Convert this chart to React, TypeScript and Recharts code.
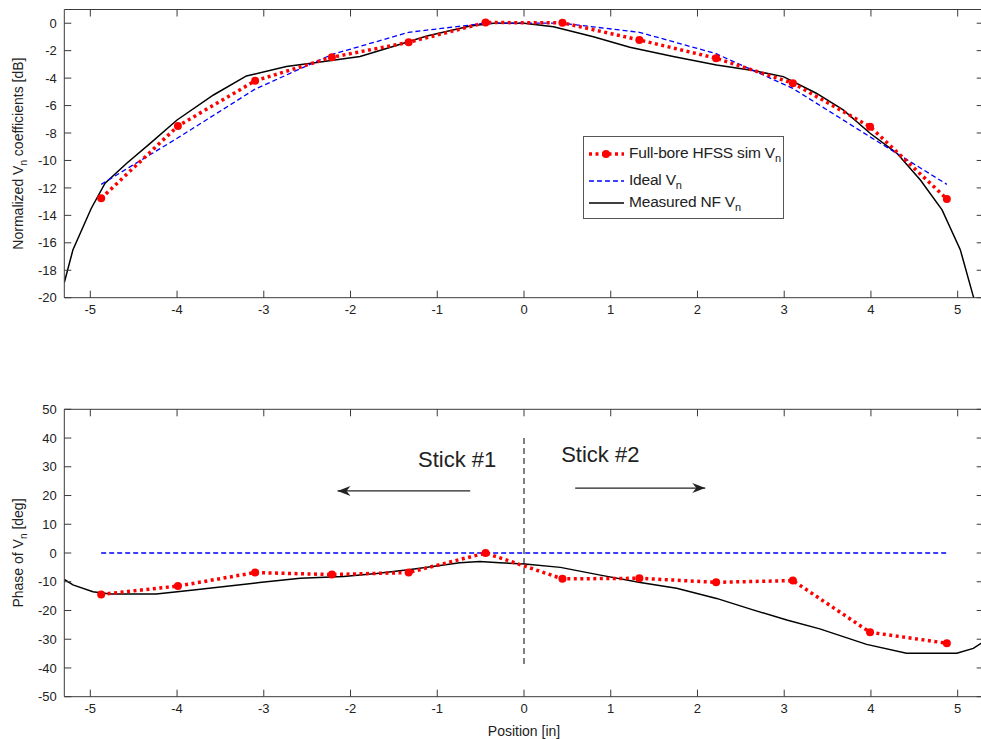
import { Line, LineChart, ReferenceDot, ReferenceLine, XAxis, YAxis } from "recharts";

// element positions along the bore [in]
const positions = [-4.875, -3.99, -3.1, -2.215, -1.33, -0.443, 0.443, 1.33, 2.215, 3.1, 3.99, 4.875];

// normalized magnitude [dB]
const hfssMag = [-12.76, -7.49, -4.2, -2.48, -1.39, 0.05, 0.03, -1.22, -2.55, -4.37, -7.54, -12.8];
const idealMag = [-11.74, -8.35, -4.8, -2.28, -0.66, 0, 0, -0.66, -2.22, -4.75, -8.28, -11.74];

// phase [deg]
const hfssPhase = [-14.4, -11.5, -6.8, -7.5, -6.8, 0, -9.0, -8.8, -10.2, -9.6, -27.6, -31.4];
const idealPhase = [0, 0, 0, 0, 0, 0, 0, 0, 0, 0, 0, 0];

// measured near-field curve, magnitude
const nfMagX = [-5.3, -5.2, -4.99, -4.83, -4.58, -4.31, -4.0, -3.58, -3.2, -2.74, -2.39, -1.89, -1.51, -1.12, -0.62, -0.35, 0, 0.34, 0.8, 1.22, 1.72, 2.22, 2.64, 2.99, 3.37, 3.68, 3.99, 4.3, 4.57, 4.82, 5.03, 5.18, 5.25];
const nfMag = [-18.9, -16.5, -13.5, -11.66, -10.2, -8.75, -7.05, -5.23, -3.84, -3.16, -2.87, -2.43, -1.7, -0.93, -0.2, 0, 0, -0.25, -0.98, -1.75, -2.43, -3.04, -3.45, -3.89, -5.1, -6.32, -8.02, -9.48, -11.42, -13.6, -16.5, -19.9, -21.5];

// measured near-field curve, phase
const nfPhaseX = [-5.3, -5.2, -4.97, -4.77, -4.24, -3.81, -3.05, -2.58, -2.08, -1.7, -1.31, -1.01, -0.74, -0.51, -0.28, 0.01, 0.42, 0.88, 1.34, 1.76, 2.22, 2.64, 3.03, 3.41, 3.95, 4.41, 4.99, 5.18, 5.3];
const nfPhase = [-9.2, -11.1, -13.5, -14.3, -14.3, -12.9, -10.3, -8.8, -8.2, -7.1, -5.7, -4.5, -3.4, -3.0, -3.4, -3.8, -5.0, -7.7, -10.3, -12.3, -15.8, -19.8, -23.3, -26.4, -31.8, -34.9, -34.9, -33.2, -30.8];

const xTicks = [-5, -4, -3, -2, -1, 0, 1, 2, 3, 4, 5];
const magTicks = [-20, -18, -16, -14, -12, -10, -8, -6, -4, -2, 0];
const phaseTicks = [-50, -40, -30, -20, -10, 0, 10, 20, 30, 40, 50];

const pairs = (xs: number[], ys: number[]) => xs.map((x, i) => ({ x, y: ys[i] }));

const INK = "#222";
const AXIS = "#3a3a3a";
const TICK = 7;

const RedDot = (p: any) => <circle key={p.key ?? p.index} cx={p.cx} cy={p.cy} r={4} fill="#ff0000" />;

// inward tick marks, labels outside (MATLAB style)
const BottomTick = ({ x, y, payload }: any) => (
  <g>
    <line x1={x} y1={y} x2={x} y2={y - TICK} stroke={AXIS} />
    <text x={x} y={y + 7.5} dy="0.71em" textAnchor="middle" fontSize={13} fill={INK}>{payload.value}</text>
  </g>
);
const LeftTick = ({ x, y, payload }: any) => (
  <g>
    <line x1={x} y1={y} x2={x + TICK} y2={y} stroke={AXIS} />
    <text x={x - 7.5} y={y} dy="0.355em" textAnchor="end" fontSize={13} fill={INK}>{payload.value}</text>
  </g>
);
const TopTick = ({ x, y }: any) => <line x1={x} y1={y} x2={x} y2={y + TICK} stroke={AXIS} />;
const RightTick = ({ x, y }: any) => <line x1={x} y1={y} x2={x - TICK} y2={y} stroke={AXIS} />;

function Arrow(p: any) {
  const { x1, y1, x2, y2 } = p;
  const d = Math.sign(x2 - x1);
  return (
    <g>
      <line x1={x1} y1={y1} x2={x2} y2={y2} stroke={INK} strokeWidth={1.2} />
      <path d={`M${x2},${y2} L${x2 - d * 13},${y2 - 5} L${x2 - d * 9},${y2} L${x2 - d * 13},${y2 + 5} Z`} fill={INK} />
    </g>
  );
}

function YTitle({ viewBox, main, tail }: any) {
  const cx = 23;
  const cy = viewBox.y + viewBox.height / 2;
  return (
    <text x={cx} y={cy} transform={`rotate(-90, ${cx}, ${cy})`} textAnchor="middle" fontSize={14} fill={INK}>
      {main}
      <tspan dy={4} fontSize={10}>n</tspan>
      <tspan dy={-4}>{tail}</tspan>
    </text>
  );
}

// box frame: labelled bottom/left axes plus unlabelled top/right axes
function frameAxes(yDomain: number[], yTicks: number[], title: any, showXLabel: boolean) {
  const common = { allowDataOverflow: true, tickSize: 0, tickMargin: 0, tickLine: false, stroke: AXIS, interval: 0 as const };
  return [
    <XAxis
      key="xb"
      type="number"
      dataKey="x"
      domain={[-5.3, 5.3]}
      ticks={xTicks}
      height={showXLabel ? 42.3 : 32.3}
      tick={BottomTick}
      {...common}
      label={showXLabel ? { value: "Position [in]", position: "insideBottom", offset: 3, fontSize: 14, fill: INK } : undefined}
    />,
    <XAxis key="xt" xAxisId="top" orientation="top" type="number" dataKey="x" domain={[-5.3, 5.3]} ticks={xTicks} height={1} tick={TopTick} {...common} />,
    <YAxis key="yl" type="number" domain={yDomain} ticks={yTicks} width={64.3} tick={LeftTick} {...common} label={title} />,
    <YAxis key="yr" yAxisId="right" orientation="right" type="number" domain={yDomain} ticks={yTicks} width={1} tick={RightTick} {...common} />,
  ];
}

function LegendBox() {
  const row = (top: number, sample: any, label: string) => (
    <div style={{ position: "absolute", left: 0, top: top - 11, height: 22, display: "flex", alignItems: "center" }}>
      <svg width={41} height={20} style={{ marginLeft: 4 }}>{sample}</svg>
      <span style={{ fontSize: 15.5, color: INK, whiteSpace: "nowrap", letterSpacing: -0.2 }}>
        {label}
        <sub style={{ fontSize: 11 }}>n</sub>
      </span>
    </div>
  );
  return (
    <div style={{ position: "absolute", left: 583, top: 136, width: 201, height: 83, border: "1px solid #555", background: "#fff", boxSizing: "border-box" }}>
      {row(17, <g><line x1={1} y1={10} x2={36} y2={10} stroke="#ff0000" strokeWidth={3.5} strokeDasharray="3 3.5" /><circle cx={18} cy={10} r={4} fill="#ff0000" /></g>, "Full-bore HFSS sim V")}
      {row(44, <line x1={1} y1={10} x2={36} y2={10} stroke="#0000ff" strokeWidth={1.3} strokeDasharray="5 3" />, "Ideal V")}
      {row(66, <line x1={1} y1={10} x2={36} y2={10} stroke="#000" strokeWidth={1.5} />, "Measured NF V")}
    </div>
  );
}

export default function App() {
  return (
    <div style={{ position: "absolute", left: 0, top: 0, width: 981, height: 739, overflow: "hidden", background: "#fff", fontFamily: "'Liberation Sans', Arial, sans-serif" }}>
      <div style={{ position: "absolute", left: 0, top: 0 }}>
        <LineChart width={990} height={330} margin={{ top: 8.5, right: 5.3, bottom: 0, left: 0 }}>
          {frameAxes([-20, 1], magTicks, <YTitle main="Normalized V" tail=" coefficients [dB]" />, false)}
          <Line data={pairs(nfMagX, nfMag)} dataKey="y" stroke="#000" strokeWidth={1.5} dot={false} isAnimationActive={false} />
          <Line data={pairs(positions, idealMag)} xAxisId="top" yAxisId="right" dataKey="y" stroke="#0000ff" strokeWidth={1.3} strokeDasharray="5 3" dot={false} isAnimationActive={false} />
          <Line data={pairs(positions, hfssMag)} dataKey="y" stroke="#ff0000" strokeWidth={3.5} strokeDasharray="3 3.5" dot={RedDot} isAnimationActive={false} />
        </LineChart>
      </div>
      <div style={{ position: "absolute", left: 0, top: 330 }}>
        <LineChart width={990} height={409} margin={{ top: 78.3, right: 5.3, bottom: 0, left: 0 }}>
          {frameAxes([-50, 50], phaseTicks, <YTitle main="Phase of V" tail=" [deg]" />, true)}
          <ReferenceLine segment={[{ x: 0, y: 40 }, { x: 0, y: -40 }]} stroke="#000" strokeDasharray="6 4" />
          <ReferenceLine segment={[{ x: -0.62, y: 21.6 }, { x: -2.15, y: 21.6 }]} shape={Arrow} />
          <ReferenceLine segment={[{ x: 0.59, y: 22.6 }, { x: 2.09, y: 22.6 }]} shape={Arrow} />
          <ReferenceDot x={-0.77} y={32.5} r={1} fill="none" stroke="none" label={{ value: "Stick #1", position: "center", fontSize: 22, fill: INK }} />
          <ReferenceDot x={0.88} y={34.3} r={1} fill="none" stroke="none" label={{ value: "Stick #2", position: "center", fontSize: 22, fill: INK }} />
          <Line data={pairs(nfPhaseX, nfPhase)} dataKey="y" stroke="#000" strokeWidth={1.5} dot={false} isAnimationActive={false} />
          <Line data={pairs(positions, idealPhase)} xAxisId="top" yAxisId="right" dataKey="y" stroke="#0000ff" strokeWidth={1.3} strokeDasharray="5 3" dot={false} isAnimationActive={false} />
          <Line data={pairs(positions, hfssPhase)} dataKey="y" stroke="#ff0000" strokeWidth={3.5} strokeDasharray="3 3.5" dot={RedDot} isAnimationActive={false} />
        </LineChart>
      </div>
      <LegendBox />
    </div>
  );
}
